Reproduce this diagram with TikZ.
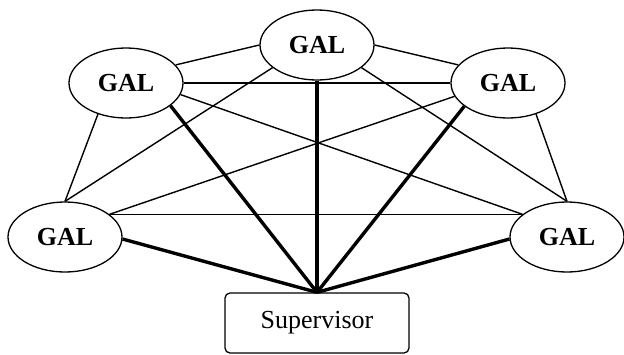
\documentclass[tikz,border=0pt]{standalone}
\usepackage{fontspec}
\setmainfont{Liberation Serif}
\usetikzlibrary{shapes.geometric}
\begin{document}
\begin{tikzpicture}[x=1pt,y=-1pt,
  gal/.style={draw,ellipse,line width=1.3pt,minimum width=114pt,minimum height=70pt,inner sep=0pt,
    font=\fontsize{26}{28}\selectfont\bfseries},
  supbox/.style={draw,rectangle,rounded corners=5pt,line width=1.3pt,minimum width=184pt,minimum height=60pt,
    inner sep=0pt,font=\fontsize{26}{28}\selectfont},
  thin/.style={line width=1.4pt},
  thick/.style={line width=3.4pt}]
\useasboundingbox (0,0) rectangle (624,354);
\node[gal] (top) at (317,45) {GAL};
\node[gal] (ul) at (126,83) {GAL};
\node[gal] (ur) at (508,83) {GAL};
\node[gal] (ll) at (65,237) {GAL};
\node[gal] (lr) at (567,237) {GAL};
\node[supbox] (sup) at (317,323) {Supervisor};
% thin complete graph
\draw[thin] (ul.20) -- (top.west);
\draw[thin] (top.east) -- (ur.160);
\draw[thin] (ul.east) -- (ur.west);
\draw[thin] (ul.-132) -- (ll.north);
\draw[thin] (ur.-48) -- (lr.north);
\draw[thin] (top.-153) -- (ll.north);
\draw[thin] (top.-27) -- (lr.north);
\draw[thin] (ul.-12) -- (lr.153);
\draw[thin] (ur.-166) -- (ll.27);
\draw[thin] (ll.27) -- (lr.153);
% thick to supervisor
\draw[thick] (top.south) -- (sup.north);
\draw[thick] (ul.-27) -- (sup.north);
\draw[thick] (ur.-152) -- (sup.north);
\draw[thick] (ll.-2) -- (sup.north);
\draw[thick] (lr.182) -- (sup.north);
\end{tikzpicture}
\end{document}
